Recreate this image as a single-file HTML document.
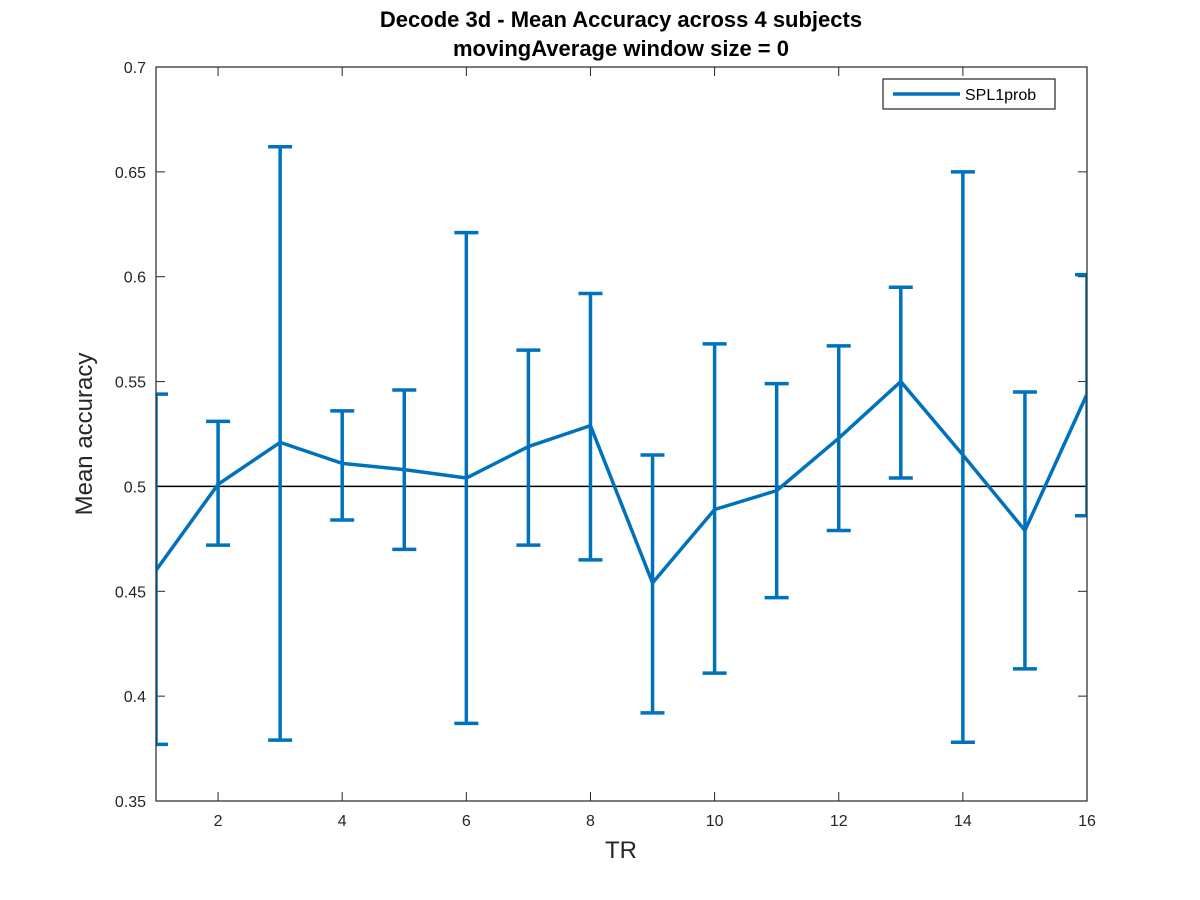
<!DOCTYPE html>
<html><head><meta charset="utf-8"><style>body{margin:0;background:#fff}svg{display:block;font-family:"Liberation Sans",sans-serif}</style></head>
<body>
<svg id="chart" width="1200" height="900">
<rect width="1200" height="900" fill="#fff"/>
<defs><clipPath id="pc"><rect x="156" y="67" width="931" height="734"/></clipPath></defs>
<text x="621" y="27" font-size="22" font-weight="bold" text-anchor="middle">Decode 3d - Mean Accuracy across 4 subjects</text>
<text x="621" y="56" font-size="22" font-weight="bold" text-anchor="middle">movingAverage window size = 0</text>
<g id="axes"></g>
<g id="series" clip-path="url(#pc)"></g>
<rect x="156" y="67" width="931" height="734" fill="none" stroke="#262626" stroke-width="1.2"/>
<text x="621" y="858" font-size="24" text-anchor="middle" fill="#262626">TR</text>
<text transform="translate(92,434) rotate(-90)" font-size="24" text-anchor="middle" fill="#262626">Mean accuracy</text>
<g>
<rect x="883" y="79" width="172" height="30" fill="#fff" stroke="#262626" stroke-width="1.2"/>
<line x1="893" y1="94" x2="960" y2="94" stroke="#0072BD" stroke-width="3.5"/>
<text x="965" y="100" font-size="16" fill="#000">SPL1prob</text>
</g>
</svg>
<script>
const trs=[1,2,3,4,5,6,7,8,9,10,11,12,13,14,15,16];
const means=[0.460,0.501,0.521,0.511,0.508,0.504,0.519,0.529,0.454,0.489,0.498,0.523,0.550,0.515,0.479,0.544];
const uppers=[0.544,0.531,0.662,0.536,0.546,0.621,0.565,0.592,0.515,0.568,0.549,0.567,0.595,0.650,0.545,0.601];
const lowers=[0.377,0.472,0.379,0.484,0.470,0.387,0.472,0.465,0.392,0.411,0.447,0.479,0.504,0.378,0.413,0.486];
const xTicks=[2,4,6,8,10,12,14,16];
const yTicks=[0.35,0.4,0.45,0.5,0.55,0.6,0.65,0.7];
const yTickLabels=["0.35","0.4","0.45","0.5","0.55","0.6","0.65","0.7"];
const refLevel=0.5;
const X0=156,X1=1087,Y0=801,Y1=67;
const xs=v=>X0+(v-1)/(16-1)*(X1-X0);
const ys=v=>Y0-(v-0.35)/(0.7-0.35)*(Y0-Y1);
const NS="http://www.w3.org/2000/svg";
function mk(tag,attrs,parent){const e=document.createElementNS(NS,tag);for(const k in attrs)e.setAttribute(k,attrs[k]);parent.appendChild(e);return e;}
const ax=document.getElementById('axes'),sr=document.getElementById('series');
xTicks.forEach(t=>{const x=xs(t);
 let l=mk('line',{x1:x,y1:Y0,x2:x,y2:Y0-9,stroke:'#262626'},ax);
 
 
 l=mk('line',{x1:x,y1:Y1,x2:x,y2:Y1+9,stroke:'#262626'},ax);
 
 
 const tx=mk('text',{x:x,y:Y0+25,'font-size':16,'text-anchor':'middle',fill:'#262626'},ax);tx.textContent=t;
 
 
});
yTicks.forEach((t,i)=>{const y=ys(t);
 let l=mk('line',{x1:X0,y1:y,x2:X0+9,y2:y,stroke:'#262626'},ax);
 
 
 l=mk('line',{x1:X1,y1:y,x2:X1-9,y2:y,stroke:'#262626'},ax);
 
 
 const tx=mk('text',{x:X0-10,y:y+6,'font-size':16,'text-anchor':'end',fill:'#262626'},ax);tx.textContent=yTickLabels[i];
 
 
});
const rl=mk('line',{x1:X0,y1:ys(refLevel),x2:X1,y2:ys(refLevel),stroke:'#000','stroke-width':1.5},sr);


trs.forEach((t,i)=>{const x=xs(t),yu=ys(uppers[i]),yl=ys(lowers[i]);
 const g=mk('path',{d:`M${x},${yu}V${yl}M${x-12},${yu}H${x+12}M${x-12},${yl}H${x+12}`,stroke:'#0072BD','stroke-width':3.5,fill:'none'},sr);
 
 
});
const p=mk('polyline',{points:trs.map((t,i)=>xs(t)+','+ys(means[i])).join(' '),stroke:'#0072BD','stroke-width':3.5,fill:'none','stroke-linejoin':'round'},sr);


</script>
</body></html>
